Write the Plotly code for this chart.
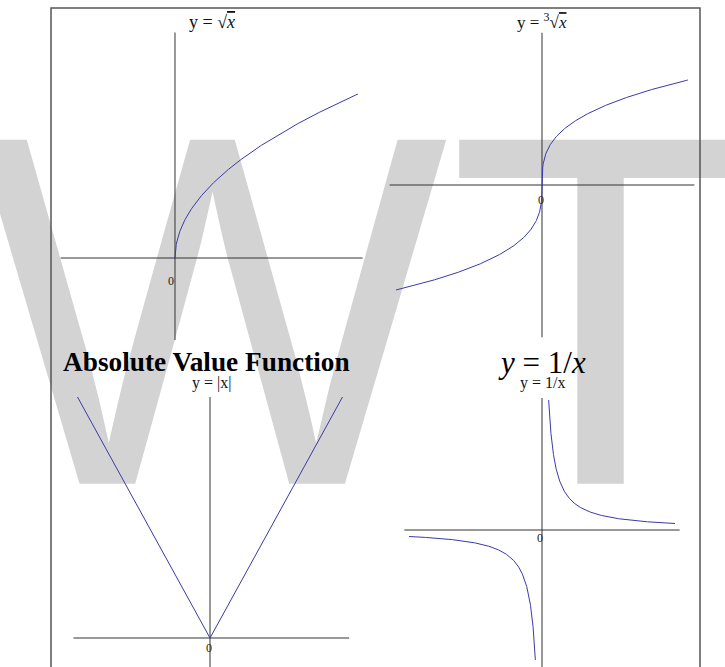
import numpy as np
import plotly.graph_objects as go

W, H = 725, 667

# ---- data -------------------------------------------------------------
# x-intervals over which each function is sampled
sqrt_interval = [0.0, 4.0]
cbrt_interval = [-8.0, 8.0]
abs_interval = [-5.0, 5.0]
recip_interval = [0.1, 2.0]          # each branch: [a, b] and [-b, -a]

# extents of the drawn coordinate axes (x then y)
sqrt_axes = [[-2.5, 4.1], [-1.0, 2.75]]
cbrt_axes = [[-8.35, 8.35], [-2.9, 2.9]]
abs_axes = [[-5.15, 5.25], [-1.5, 5.0]]
recip_axes = [[-2.07, 2.07], [-11.5, 10.15]]

OVER = "<span style='text-decoration:overline'><i>x</i></span>"
titles = [
    "y = √" + OVER,
    "y = <sup>3</sup>√" + OVER,
    "y = |x|",
    "y = 1/x",
]
headings = ["<b>Absolute Value Function</b>", "<i>y</i> = 1/<i>x</i>"]
origin_label = "0"
watermark = "WT"

N = 600
sx_sqrt = np.linspace(*sqrt_interval, N)
sy_sqrt = np.sqrt(sx_sqrt)
sx_cbrt = np.linspace(*cbrt_interval, N)
sy_cbrt = np.cbrt(sx_cbrt)
sx_abs = np.array([abs_interval[0], 0.0, abs_interval[1]])
sy_abs = np.abs(sx_abs)
rx_pos = np.geomspace(*recip_interval, N)
rx_neg = -rx_pos
ry_pos = 1.0 / rx_pos
ry_neg = 1.0 / rx_neg

# ---- styling ----------------------------------------------------------
CURVE = "#3a3aa8"
AXIS = "#333333"
SERIF = "Liberation Serif"

fig = go.Figure()

# background watermark lives in the first (bottom-most) subplot
fig.add_trace(go.Scatter(
    x=[0.503], y=[0.462], mode="text", text=[watermark],
    textfont=dict(family="Liberation Sans", size=500, color="#d3d3d3"),
    textposition="middle center", hoverinfo="skip", showlegend=False,
    xaxis="x", yaxis="y", cliponaxis=False,
))
fig.update_layout(
    xaxis=dict(domain=[0, 1], range=[0, 1], visible=False, fixedrange=True),
    yaxis=dict(domain=[0, 1], range=[0, 1], visible=False, fixedrange=True),
)


def panel(idx, origin, scale, axes_ext, xs_list, ys_list, label_off):
    """Place one function panel so its origin sits at a pixel position."""
    ox, oy = origin
    sx, sy = scale
    xr = [axes_ext[0][0] - 0.3 * abs(axes_ext[0][0]) / 5 - 0.05,
          axes_ext[0][1] + 0.05]
    yr = [axes_ext[1][0] - 0.05, axes_ext[1][1] + 0.05]
    # keep the panel inside the page; anything lower is cut off
    yr[0] = max(yr[0], -(H - oy) / sy)
    yr[1] = min(yr[1], oy / sy)
    xd = [(ox + xr[0] * sx) / W, (ox + xr[1] * sx) / W]
    yd = [1 - (oy - yr[0] * sy) / H, 1 - (oy - yr[1] * sy) / H]
    xa, ya = f"x{idx}", f"y{idx}"
    fig.update_layout({
        f"xaxis{idx}": dict(domain=xd, range=xr, visible=False, fixedrange=True),
        f"yaxis{idx}": dict(domain=yd, range=yr, visible=False, fixedrange=True),
    })
    # coordinate axes
    fig.add_trace(go.Scatter(x=axes_ext[0], y=[0, 0], mode="lines",
                             line=dict(color=AXIS, width=1), xaxis=xa, yaxis=ya,
                             hoverinfo="skip", showlegend=False))
    fig.add_trace(go.Scatter(x=[0, 0], y=axes_ext[1], mode="lines",
                             line=dict(color=AXIS, width=1), xaxis=xa, yaxis=ya,
                             hoverinfo="skip", showlegend=False))
    for xs, ys in zip(xs_list, ys_list):
        fig.add_trace(go.Scatter(x=xs, y=ys, mode="lines",
                                 line=dict(color=CURVE, width=1), xaxis=xa, yaxis=ya,
                                 hoverinfo="skip", showlegend=False))
    fig.add_annotation(x=label_off[0], y=label_off[1], xref=xa, yref=ya,
                       text=origin_label, showarrow=False,
                       font=dict(family=SERIF, size=12, color="#222"))
    # panel caption, centred over the horizontal axis
    cx = (ox + (axes_ext[0][0] + axes_ext[0][1]) / 2 * sx) / W
    return cx


cx1 = panel(2, (175, 258), (45.75, 82.0), sqrt_axes, [sx_sqrt], [sy_sqrt], (-0.09, -0.28))
cx2 = panel(3, (542, 185), (18.25, 52.5), cbrt_axes, [sx_cbrt], [sy_cbrt], (-0.06, -0.29))
cx3 = panel(4, (210, 638), (26.5, 48.2), abs_axes, [sx_abs], [sy_abs], (-0.04, -0.21))
cx4 = panel(5, (542, 530), (66.5, 13.0), recip_axes, [rx_pos, rx_neg], [ry_pos, ry_neg], (-0.03, -0.62))


def caption(x, ypix, text, size, color="#111"):
    fig.add_annotation(x=x, y=1 - ypix / H, xref="paper", yref="paper",
                       text=text, showarrow=False, xanchor="center", yanchor="middle",
                       font=dict(family=SERIF, size=size, color=color))


caption(cx1, 22, titles[0], 18)
caption(cx2, 21, titles[1], 17)
caption(cx3, 383, titles[2], 16)
caption(cx4, 383, titles[3], 16)
caption(206 / W, 362, headings[0], 27.3, "#000")
caption(542 / W, 362, headings[1], 31, "#000")

# surrounding frame (its lower edge runs past the page)
fig.add_shape(type="rect", xref="paper", yref="paper",
              x0=51 / W, x1=700 / W, y0=-0.2, y1=1 - 8 / H,
              line=dict(color="#555555", width=1.5), fillcolor="rgba(0,0,0,0)")

fig.update_layout(
    width=W, height=H,
    margin=dict(l=0, r=0, t=0, b=0),
    paper_bgcolor="white", plot_bgcolor="rgba(0,0,0,0)",
    showlegend=False,
)

fig.write_html("out.html")
